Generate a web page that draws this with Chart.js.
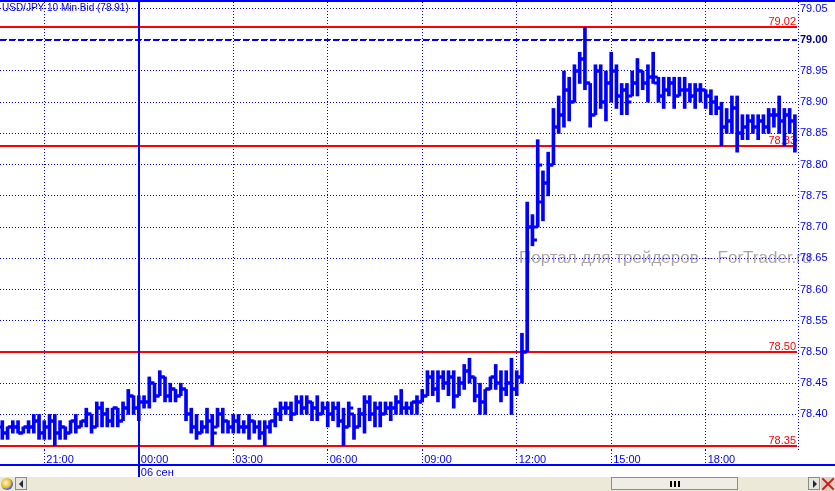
<!DOCTYPE html>
<html>
<head>
<meta charset="utf-8">
<title>USD/JPY 10 Min</title>
<script src="https://cdn.jsdelivr.net/npm/chart.js@4.4.1/dist/chart.umd.min.js"></script>
<style>
  html, body { margin: 0; padding: 0; background: #fff; overflow: hidden; }
  #chart { display: block; }
  .sb { position: relative; width: 835px; height: 14px; background: #ECE9D8; }
  .sb div { position: absolute; box-sizing: border-box; }
  .globe { left: 1px; top: 1px; width: 12px; height: 12px; border-radius: 50%;
    background: radial-gradient(circle at 40% 40%, #fffbd0 0, #e8b428 50%, #4a78c8 62%, #2a4f9a 100%); }
  .btn { top: 0; width: 12px; height: 13px; background: #E8E6DC; border: 1px solid #8c8c8c; }
  .btn.l { left: 15px; }
  .btn.r { left: 808px; }
  .tri { top: 2px; width: 0; height: 0; border-top: 4px solid transparent; border-bottom: 4px solid transparent; }
  .btn.l .tri { left: 3px; border-right: 4px solid #1a2a3a; }
  .btn.r .tri { left: 4px; border-left: 4px solid #1a2a3a; }
  .thumb { left: 611px; top: 0; width: 127px; height: 13px; background: #EEEDE6; border: 1px solid #8c8c8c; }
  .grip { top: 3px; width: 2px; height: 6px; background: #000; }
  .xic { left: 821px; top: 0; width: 14px; height: 14px; background: #D8D4C4; }
  .xic span { position: absolute; left: 6px; top: -1px; width: 2px; height: 16px; background: #e01010; }
</style>
</head>
<body>
<canvas id="chart" width="835" height="477"></canvas>
<div class="sb">
  <div class="globe"></div>
  <div class="btn l"><div class="tri"></div></div>
  <div class="thumb">
    <div class="grip" style="left:58px"></div>
    <div class="grip" style="left:62px"></div>
    <div class="grip" style="left:66px"></div>
  </div>
  <div class="btn r"><div class="tri"></div></div>
  <div class="xic"><span style="transform:rotate(45deg)"></span><span style="transform:rotate(-45deg)"></span></div>
</div>
<script>
// USD/JPY 10 min bars, index 0 = 19:40 (05 Sep) ... 151 = 20:50 (06 Sep)
const opens = [
  78.38,78.37,78.38,78.38,78.37,78.38,78.38,78.39,78.37,78.38,
  78.39,78.37,78.38,78.37,78.39,78.38,78.39,78.40,78.38,78.41,
  78.40,78.39,78.41,78.39,78.41,78.43,78.41,78.42,78.42,78.45,
  78.43,78.46,78.43,78.44,78.43,78.44,78.40,78.38,78.37,78.38,
  78.39,78.38,78.40,78.39,78.38,78.39,78.38,78.38,78.39,78.38,
  78.37,78.38,78.39,78.40,78.41,78.41,78.40,78.42,78.41,78.42,
  78.41,78.40,78.41,78.40,78.41,78.39,78.38,78.40,78.38,78.40,
  78.42,78.40,78.41,78.40,78.41,78.41,78.42,78.41,78.41,78.42,
  78.42,78.43,78.46,78.44,78.46,78.45,78.46,78.43,78.45,78.47,
  78.46,78.43,78.42,78.44,78.46,78.45,78.44,78.45,78.44,78.46,
  78.50,78.70,78.70,78.74,78.77,78.80,78.86,78.88,78.92,78.90,
  78.95,78.97,78.93,78.88,78.95,78.90,78.93,78.95,78.91,78.92,
  78.91,78.93,78.95,78.93,78.94,78.93,78.91,78.92,78.93,78.91,
  78.92,78.92,78.91,78.92,78.92,78.91,78.90,78.89,78.86,78.87,
  78.89,78.85,78.86,78.87,78.86,78.87,78.86,78.88,78.88,78.87,
  78.88,78.87
];
const highs = [
  78.39,78.38,78.39,78.39,78.38,78.39,78.40,78.40,78.39,78.40,
  78.40,78.39,78.38,78.39,78.40,78.39,78.41,78.40,78.42,78.42,
  78.41,78.41,78.41,78.42,78.44,78.43,78.43,78.43,78.46,78.45,
  78.47,78.46,78.45,78.44,78.45,78.44,78.41,78.40,78.39,78.41,
  78.40,78.41,78.41,78.39,78.40,78.40,78.39,78.40,78.39,78.39,
  78.39,78.39,78.41,78.42,78.42,78.42,78.43,78.43,78.43,78.42,
  78.43,78.42,78.42,78.42,78.42,78.41,78.42,78.40,78.41,78.43,
  78.43,78.42,78.42,78.42,78.42,78.43,78.44,78.42,78.42,78.43,
  78.44,78.47,78.47,78.47,78.47,78.47,78.47,78.46,78.48,78.49,
  78.46,78.45,78.44,78.46,78.48,78.47,78.47,78.49,78.47,78.53,
  78.74,78.72,78.84,78.79,78.82,78.89,78.91,78.95,78.94,78.96,
  78.98,79.02,78.93,78.96,78.96,78.95,78.98,78.96,78.93,78.93,
  78.95,78.97,78.95,78.96,78.98,78.94,78.94,78.94,78.94,78.94,
  78.94,78.93,78.93,78.93,78.92,78.92,78.91,78.90,78.89,78.91,
  78.91,78.88,78.88,78.88,78.88,78.88,78.89,78.89,78.91,78.89,
  78.89,78.88
];
const lows = [
  78.36,78.36,78.37,78.37,78.37,78.37,78.37,78.36,78.36,78.36,
  78.35,78.36,78.36,78.37,78.37,78.38,78.38,78.37,78.38,78.38,
  78.38,78.38,78.38,78.39,78.40,78.40,78.39,78.41,78.41,78.42,
  78.43,78.42,78.42,78.42,78.43,78.39,78.37,78.36,78.37,78.37,
  78.35,78.38,78.37,78.37,78.37,78.37,78.37,78.36,78.37,78.36,
  78.35,78.37,78.38,78.39,78.40,78.39,78.40,78.40,78.40,78.39,
  78.39,78.40,78.38,78.39,78.38,78.35,78.38,78.36,78.38,78.37,
  78.39,78.38,78.38,78.40,78.39,78.40,78.40,78.40,78.40,78.40,
  78.42,78.43,78.43,78.42,78.44,78.43,78.41,78.43,78.44,78.45,
  78.42,78.40,78.40,78.44,78.44,78.42,78.43,78.40,78.43,78.45,
  78.50,78.67,78.70,78.71,78.75,78.80,78.85,78.86,78.87,78.90,
  78.93,78.92,78.86,78.88,78.89,78.87,78.90,78.89,78.88,78.88,
  78.91,78.91,78.92,78.90,78.93,78.90,78.89,78.91,78.89,78.91,
  78.89,78.90,78.89,78.90,78.89,78.88,78.88,78.83,78.85,78.85,
  78.82,78.84,78.84,78.85,78.84,78.85,78.85,78.86,78.85,78.83,
  78.85,78.82
];
const closes = [
  78.37,78.38,78.38,78.37,78.38,78.38,78.39,78.37,78.38,78.39,
  78.37,78.38,78.37,78.39,78.38,78.39,78.40,78.38,78.41,78.40,
  78.39,78.41,78.39,78.41,78.43,78.41,78.42,78.42,78.45,78.43,
  78.46,78.43,78.44,78.43,78.44,78.40,78.38,78.37,78.38,78.39,
  78.37,78.40,78.39,78.38,78.39,78.38,78.38,78.39,78.38,78.37,
  78.38,78.39,78.40,78.41,78.41,78.40,78.42,78.41,78.42,78.41,
  78.40,78.41,78.40,78.41,78.39,78.38,78.41,78.38,78.40,78.42,
  78.40,78.41,78.40,78.41,78.41,78.42,78.41,78.41,78.42,78.42,
  78.43,78.46,78.44,78.46,78.45,78.46,78.43,78.45,78.47,78.46,
  78.43,78.42,78.44,78.46,78.45,78.44,78.45,78.44,78.46,78.50,
  78.70,78.68,78.80,78.77,78.80,78.86,78.88,78.92,78.90,78.95,
  78.97,78.93,78.88,78.95,78.90,78.93,78.95,78.91,78.92,78.90,
  78.93,78.95,78.93,78.94,78.94,78.91,78.92,78.93,78.91,78.92,
  78.92,78.91,78.92,78.92,78.91,78.90,78.89,78.86,78.87,78.89,
  78.85,78.86,78.87,78.86,78.87,78.86,78.88,78.88,78.87,78.88,
  78.87,78.84
];

const tickIdx = [8, 26, 44, 62, 80, 98, 116, 134];
const tickLabels = ['21:00', '00:00', '03:00', '06:00', '09:00', '12:00', '15:00', '18:00'];
const dayIdx = 26;
const dayLabel = '06 сен';
const levels = [79.02, 78.83, 78.50, 78.35];
const dashLevel = 79.00;
const hiddenTick = 78.35;
const titleText = 'USD/JPY 10 Min Bid (78.91)';
const markText = 'Портал для трейдеров – ForTrader.ru';

const BLUE = '#0000FF';
const RED = '#FF0000';
const FONT = 'Liberation Sans, Arial, sans-serif';

const near = (a, b) => a != null && Math.abs(a - b) < 1e-6;

const decor = {
  id: 'decor',
  beforeDraw(chart) {
    const {ctx} = chart;
    ctx.save();
    ctx.font = '17px ' + FONT;
    ctx.fillStyle = '#B0A4A4';
    ctx.textBaseline = 'alphabetic';
    ctx.fillText(markText, 519, 263);
    ctx.restore();
  },
  beforeDatasetsDraw(chart) {
    const {ctx, chartArea: a, scales: {y}} = chart;
    ctx.save();
    // red levels
    ctx.fillStyle = RED;
    ctx.font = '11px ' + FONT;
    ctx.textAlign = 'right';
    ctx.textBaseline = 'alphabetic';
    levels.forEach(v => {
      const py = Math.round(y.getPixelForValue(v));
      ctx.fillRect(a.left, py - 1, a.right - a.left, 2);
      ctx.fillText(v.toFixed(2), a.right - 1, py - 2);
    });
    // dashed level
    const dy = Math.round(y.getPixelForValue(dashLevel));
    ctx.strokeStyle = BLUE;
    ctx.lineWidth = 2;
    ctx.setLineDash([6, 3]);
    ctx.beginPath();
    ctx.moveTo(a.left, dy);
    ctx.lineTo(a.right, dy);
    ctx.stroke();
    ctx.restore();
  },
  afterDatasetsDraw(chart) {
    const {ctx, chartArea: a, scales: {x, y}} = chart;
    ctx.save();
    ctx.beginPath();
    ctx.rect(a.left, a.top, a.right - a.left, a.bottom - a.top);
    ctx.clip();
    ctx.fillStyle = BLUE;
    opens.forEach((o, i) => {
      const px = x.getPixelForValue(i);
      ctx.fillRect(px - 4.5, Math.round(y.getPixelForValue(o)) - 1.5, 4.5, 3);
      ctx.fillRect(px, Math.round(y.getPixelForValue(closes[i])) - 1.5, 4.5, 3);
    });
    ctx.restore();
  },
  afterDraw(chart) {
    const {ctx, chartArea: a, scales: {x}, width, height} = chart;
    ctx.save();
    ctx.fillStyle = BLUE;
    ctx.fillRect(0, 0, width, 2);
    ctx.fillRect(0, 464, width, 2);
    const sx = Math.round(x.getPixelForValue(dayIdx));
    ctx.fillRect(sx - 1, 0, 2, height);
    // right axis dotted line
    ctx.strokeStyle = BLUE;
    ctx.lineWidth = 1;
    ctx.setLineDash([1, 2]);
    ctx.beginPath();
    ctx.moveTo(a.right + 1.5, a.top);
    ctx.lineTo(a.right + 1.5, a.bottom);
    ctx.stroke();
    ctx.setLineDash([]);
    ctx.font = '10px ' + FONT;
    ctx.textBaseline = 'alphabetic';
    ctx.fillText(titleText, 2, 11);
    ctx.restore();
  }
};

Chart.defaults.font.family = FONT;

new Chart(document.getElementById('chart'), {
  type: 'bar',
  data: {
    datasets: [{
      data: highs.map((h, i) => ({x: i, y: [lows[i], h]})),
      backgroundColor: BLUE,
      borderWidth: 0,
      barThickness: 3,
      grouped: false
    }]
  },
  options: {
    responsive: false,
    animation: false,
    devicePixelRatio: 1,
    layout: { padding: { top: 2, left: 0, right: 0, bottom: 0 } },
    plugins: { legend: { display: false }, tooltip: { enabled: false } },
    scales: {
      x: {
        type: 'linear',
        offset: false,
        min: -0.44,
        max: 151.4,
        afterBuildTicks: s => { s.ticks = tickIdx.map(v => ({value: v})); },
        afterFit: s => { s.height = 27; s.paddingLeft = 0; s.paddingRight = 0; },
        grid: { offset: false, color: BLUE, lineWidth: 1, drawTicks: true, tickLength: 15, tickColor: BLUE, tickBorderDash: [1, 2] },
        border: { display: false, dash: [1, 2] },
        ticks: {
          autoSkip: false,
          maxRotation: 0,
          align: 'start',
          labelOffset: 2,
          padding: -12,
          color: BLUE,
          font: { size: 11 },
          callback: v => {
            const k = tickIdx.indexOf(v);
            if (k < 0) return '';
            return v === dayIdx ? [tickLabels[k], dayLabel] : tickLabels[k];
          }
        }
      },
      y: {
        position: 'right',
        min: 78.343,
        max: 79.0605,
        afterFit: s => { s.width = 38; s.paddingTop = 0; s.paddingBottom = 0; },
        grid: { color: BLUE, lineWidth: 1, drawTicks: false },
        border: { display: false, dash: [1, 2] },
        ticks: {
          stepSize: 0.05,
          includeBounds: false,
          padding: 3,
          color: c => near(c.tick && c.tick.value, dashLevel) ? '#00007F' : BLUE,
          font: c => ({ size: 11, weight: near(c.tick && c.tick.value, dashLevel) ? 'bold' : 'normal' }),
          callback: v => near(v, hiddenTick) ? '' : v.toFixed(2)
        }
      }
    }
  },
  plugins: [decor]
});
</script>
</body>
</html>
